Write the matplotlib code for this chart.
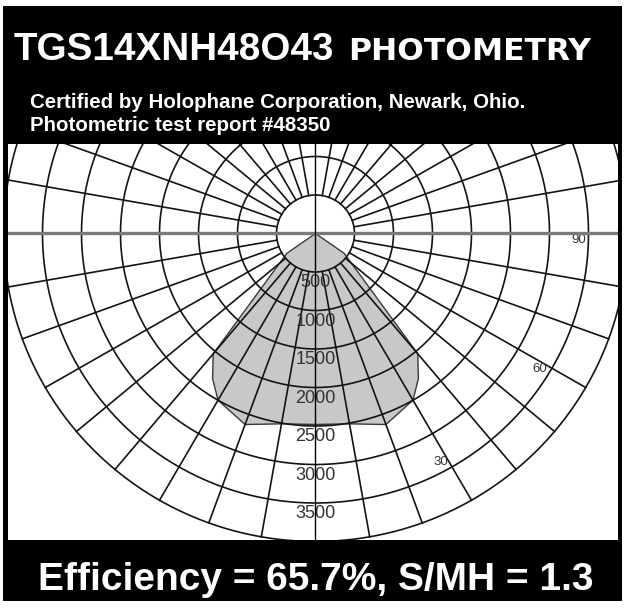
import numpy as np
import matplotlib
matplotlib.use("Agg")
import matplotlib.pyplot as plt
from matplotlib.patches import Rectangle

# distribuicao de candelas (angulo vertical a partir do nadir, simetrica)
angulos = [0, 10, 20, 30, 35, 40, 55, 65]
candelas = [2480, 2510, 2640, 2500, 2300, 2040, 450, 0]

# grade polar
aneis = [500, 1000, 1500, 2000, 2500, 3000, 3500, 4000]
rotulos_aneis = ["500", "1000", "1500", "2000", "2500", "3000", "3500"]
angulos_grade = list(range(0, 360, 10))
rotulos_angulo = [30, 60, 90]

titulo = "TGS14XNH48O43"
titulo2 = "PHOTOMETRY"
linha1 = "Certified by Holophane Corporation, Newark, Ohio."
linha2 = "Photometric test report #48350"
rodape = "Efficiency = 65.7%, S/MH = 1.3"

W, H = 626, 609
CX, CY = 315.5, 233.5      # centro do diagrama (px)
SX, SY = 0.078, 0.077      # px por candela


def fx(px):
    return px / W


def fy(py):
    return 1 - py / H


fig = plt.figure(figsize=(W / 100, H / 100), dpi=100)
fig.patch.set_facecolor("white")

# moldura preta
fig.patches.append(Rectangle((fx(3), fy(601)), fx(622) - fx(3), fy(6) - fy(601),
                             transform=fig.transFigure, facecolor="black",
                             edgecolor="none", zorder=-1))

ax = fig.add_axes([fx(8), fy(540), fx(618) - fx(8), fy(144) - fy(540)])
ax.set_zorder(2)
ax.set_facecolor("white")
ax.set_xlim((8 - CX) / SX, (618 - CX) / SX)
ax.set_ylim((CY - 540) / SY, (CY - 144) / SY)
ax.set_xticks([])
ax.set_yticks([])
for s in ax.spines.values():
    s.set_visible(False)

cor_grade = "#141414"

# circulos
t = np.linspace(0, 2 * np.pi, 721)
for r in aneis:
    ax.plot(r * np.cos(t), r * np.sin(t), color=cor_grade, lw=1.2, zorder=2)

# linhas radiais (a horizontal e a vertical sao feitas a parte)
for a in angulos_grade:
    if a % 90 == 0:
        continue
    th = np.radians(a)
    ax.plot([aneis[0] * np.sin(th), aneis[-1] * np.sin(th)],
            [-aneis[0] * np.cos(th), -aneis[-1] * np.cos(th)],
            color=cor_grade, lw=1.2, zorder=2)

# curva de intensidade espelhada
th = np.radians(angulos)
I = np.array(candelas, dtype=float)
xs = np.concatenate([-(I * np.sin(th))[::-1], (I * np.sin(th))[1:]])
ys = np.concatenate([-(I * np.cos(th))[::-1], -(I * np.cos(th))[1:]])
ax.fill(xs, ys, facecolor="#c8c8c8", edgecolor="#3a3a3a", lw=1.0, zorder=1)

# eixos centrais
ax.axhline(0, color="#7a7a7a", lw=2.4, zorder=4)
ax.axvline(0, color="black", lw=1.0, zorder=4)

# rotulos dos aneis
for r, txt in zip(aneis, rotulos_aneis):
    ax.text(0, -(r + 140), txt, ha="center", va="center", fontsize=13,
            family="Liberation Sans", color="#333333", zorder=3)

# rotulos de angulo
for a in rotulos_angulo:
    tha = np.radians(a - 1.5)
    ax.text(3370 * np.sin(tha), -3370 * np.cos(tha), str(a), ha="center",
            va="center", fontsize=9.5, family="Liberation Sans",
            color="#333333", zorder=3)

# textos do cabecalho e rodape
fig.text(fx(14), fy(60), titulo, color="white", fontsize=27.8,
         family="Liberation Sans", weight="bold", va="baseline")
fig.text(fx(348), fy(60), titulo2, color="white", fontsize=22.6,
         family="DejaVu Sans", weight="bold", va="baseline")
fig.text(fx(30), fy(108), linha1, color="white", fontsize=14.8,
         family="Liberation Sans", weight="bold", va="baseline")
fig.text(fx(30), fy(131), linha2, color="white", fontsize=14.8,
         family="Liberation Sans", weight="bold", va="baseline")
fig.text(fx(316), fy(590), rodape, color="white", fontsize=28,
         family="Liberation Sans", weight="bold", va="baseline", ha="center")

fig.savefig("out.png", dpi=100, facecolor="white")
